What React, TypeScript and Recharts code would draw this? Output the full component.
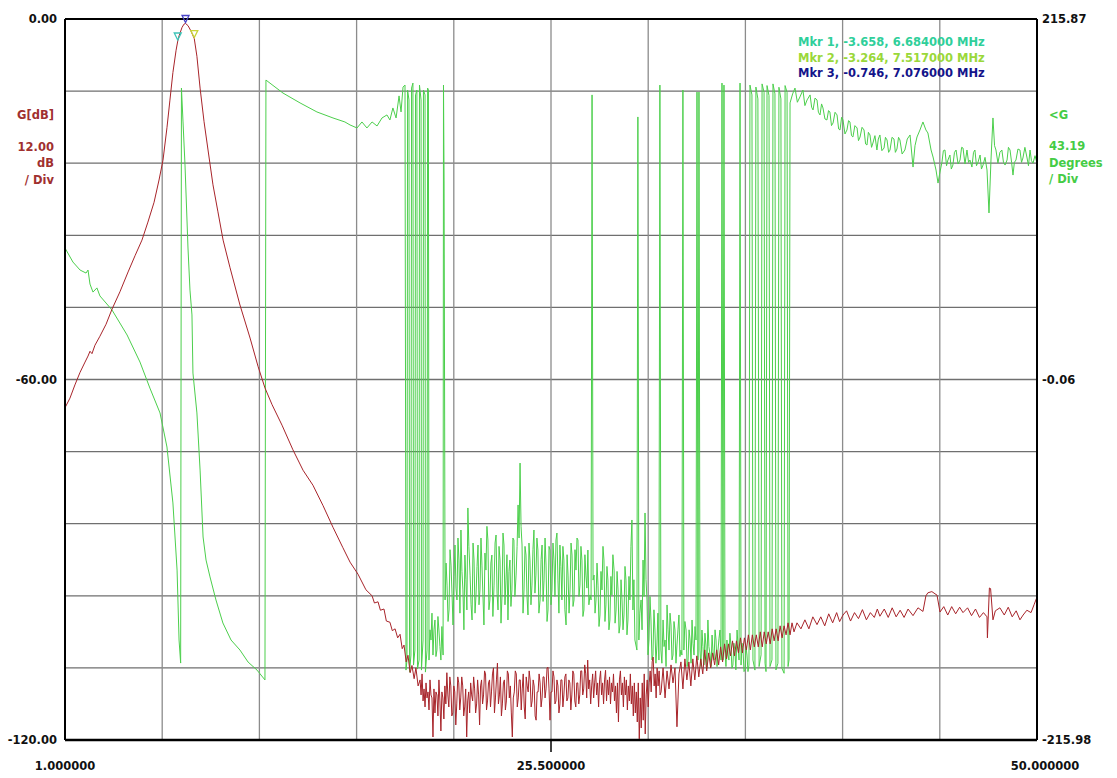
import React from 'react';
import { LineChart, Line, XAxis, YAxis, CartesianGrid, ReferenceLine, ReferenceDot } from 'recharts';

// Frequency axis (MHz)
const X_DOMAIN: [number, number] = [1, 50];
const X_GRID = [1, 5.9, 10.8, 15.7, 20.6, 25.5, 30.4, 35.3, 40.2, 45.1, 50];
const X_LABEL_VALUES = [1, 25.5, 50];
const X_LABEL_TEXT = ['1.000000', '25.500000', '50.000000'];

// Gain axis (dB)
const G_DOMAIN: [number, number] = [-120, 0];
const G_GRID = [-120, -108, -96, -84, -72, -60, -48, -36, -24, -12, 0];
const G_LABEL_VALUES = [0, -60, -120];
const G_LABEL_TEXT = ['0.00', '-60.00', '-120.00'];

// Phase axis (degrees)
const P_DOMAIN: [number, number] = [-215.98, 215.87];
const P_TICKS = [-215.98, -0.06, 215.87];
const P_LABEL_TEXT = ['-215.98', '-0.06', '215.87'];

// Markers: [freq MHz, gain dB]
const MARKER_NAMES = ['Mkr 1', 'Mkr 2', 'Mkr 3'];
const MARKER_FREQ = [6.684, 7.517, 7.076];
const MARKER_GAIN = [-3.658, -3.264, -0.746];
const MARKER_TEXT_COLORS = ['#2fcf9a', '#9ad83a', '#14148a'];
const MARKER_TRI_COLORS = ['#3ec4b8', '#c9d43a', '#4a44c8'];

// G [dB] trace: [freq MHz, gain dB]
const G_TRACE: [number, number][] = [
  [1.00,-64.7],[1.25,-63.1],[1.50,-60.9],[1.76,-58.8],[2.01,-57.1],[2.16,-56.1],[2.26,-55.3],[2.36,-55.7],
  [2.51,-54.3],[2.76,-52.8],[3.07,-50.8],[3.37,-48.3],[3.77,-45.4],[4.18,-42.1],[4.53,-39.4],[4.88,-36.8],
  [5.18,-33.8],[5.49,-30.5],[5.74,-26.8],[5.94,-23.5],[6.14,-18.1],[6.29,-13.5],[6.44,-8.9],[6.60,-5.2],
  [6.684,-3.658],[6.75,-2.8],[6.90,-1.4],[7.00,-0.85],[7.076,-0.746],[7.20,-1.1],[7.35,-2.0],[7.517,-3.264],
  [7.65,-6.2],[7.81,-11.5],[8.01,-17.1],[8.21,-21.8],[8.46,-27.6],[8.71,-32.1],[8.97,-36.8],[9.32,-41.4],
  [9.82,-47.6],[10.33,-53.1],[10.73,-57.8],[11.08,-61.4],[11.44,-64.2],[11.94,-67.6],[12.49,-71.7],[13.00,-75.1],
  [13.50,-77.6],[14.01,-81.0],[14.51,-84.6],[15.01,-88.0],[15.37,-90.4],[15.77,-92.4],[16.17,-95.0],[16.48,-96.0],
  [16.60,-97.2],[16.78,-97.0],[16.90,-98.4],[17.08,-98.2],[17.20,-100.2],[17.38,-100.4],[17.50,-101.8],[17.64,-101.5],
  [17.77,-103.0],[17.89,-102.4],[18.00,-104.8],[18.09,-104.2],[18.20,-107.0],[18.29,-105.9],[18.40,-108.8],[18.49,-107.6],
  [18.60,-109.8],[18.69,-108.0],[18.80,-111.0],
  [18.90,-110.0],[18.95,-112.5],[19.00,-109.0],[19.05,-113.5],[19.10,-111.5],[19.15,-114.5],[19.20,-110.5],[19.25,-113.0],[19.30,-112.0],[19.35,-115.0],
  [19.40,-110.0],[19.45,-112.5],[19.50,-113.0],[19.55,-119.5],[19.60,-111.5],[19.65,-115.5],[19.70,-112.0],[19.75,-112.5],[19.80,-116.0],[19.85,-110.0],
  [19.90,-113.5],[19.95,-118.5],[20.00,-112.0],[20.05,-113.0],[20.10,-116.5],[20.15,-111.0],[20.20,-114.0],[20.25,-108.8],[20.30,-112.5],[20.35,-114.5],
  [20.40,-109.5],[20.45,-111.0],[20.50,-116.0],[20.55,-115.5],[20.60,-111.0],[20.65,-112.0],[20.70,-117.5],[20.75,-114.0],[20.80,-109.5],[20.85,-110.5],
  [20.90,-115.0],[20.95,-113.0],[21.00,-109.5],[21.05,-111.0],[21.10,-116.0],[21.15,-114.5],[21.20,-111.5],[21.25,-119.5],[21.30,-113.5],[21.35,-112.0],
  [21.40,-115.5],[21.45,-110.5],[21.50,-112.5],[21.55,-113.5],[21.60,-109.5],[21.65,-111.5],[21.70,-115.5],[21.75,-114.0],[21.80,-110.0],[21.85,-112.5],
  [21.90,-117.5],[21.95,-111.0],[22.00,-110.0],[22.05,-114.0],[22.10,-112.5],[22.15,-108.5],[22.20,-109.0],[22.25,-115.0],[22.30,-113.5],[22.35,-110.5],
  [22.40,-110.0],[22.45,-114.5],[22.50,-112.0],[22.55,-109.0],[22.60,-108.0],[22.65,-115.5],[22.70,-113.0],[22.75,-110.0],[22.80,-107.2],[22.85,-114.0],
  [22.90,-112.5],[22.95,-109.5],[23.00,-116.0],[23.05,-114.0],[23.10,-110.5],[23.15,-110.0],[23.20,-115.0],[23.25,-113.5],[23.30,-108.5],[23.35,-109.0],
  [23.40,-113.0],[23.45,-111.0],[23.50,-115.5],[23.55,-119.5],[23.60,-113.0],[23.65,-112.0],[23.70,-108.5],[23.75,-109.0],[23.80,-114.5],[23.85,-113.0],
  [23.90,-110.0],[23.95,-110.0],[24.00,-115.0],[24.05,-111.5],[24.10,-109.0],[24.15,-114.5],[24.20,-116.5],[24.25,-109.5],[24.30,-111.0],[24.35,-112.0],
  [24.40,-108.5],[24.45,-110.0],[24.50,-114.5],[24.55,-113.5],[24.60,-110.0],[24.65,-111.0],[24.70,-116.0],[24.75,-116.7],[24.80,-112.0],[24.85,-112.0],
  [24.90,-109.0],[24.95,-110.5],[25.00,-114.5],[25.05,-113.0],[25.10,-109.5],[25.15,-109.5],[25.20,-113.0],[25.25,-111.5],[25.30,-108.0],[25.35,-107.9],
  [25.40,-111.5],[25.45,-116.7],[25.50,-112.0],[25.55,-112.0],[25.60,-108.5],[25.65,-109.5],[25.70,-114.0],[25.75,-113.5],[25.80,-110.0],[25.85,-111.0],
  [25.90,-115.5],[25.95,-114.0],[26.00,-110.0],[26.05,-110.0],[26.10,-114.5],[26.15,-112.5],[26.20,-109.5],[26.25,-109.0],[26.30,-113.5],[26.35,-113.0],
  [26.40,-110.0],[26.45,-110.5],[26.50,-115.0],[26.55,-112.5],[26.60,-108.5],[26.65,-109.0],[26.70,-113.5],[26.75,-114.5],[26.80,-110.5],[26.85,-110.5],
  [26.90,-114.0],[26.95,-112.5],[27.00,-108.5],[27.05,-108.5],[27.10,-112.5],[27.15,-111.5],[27.20,-107.5],[27.25,-109.0],[27.30,-113.0],[27.35,-106.7],
  [27.40,-111.5],[27.45,-110.0],[27.50,-114.0],[27.55,-111.0],[27.60,-109.0],[27.65,-113.0],[27.70,-110.5],[27.75,-108.5],[27.80,-112.5],[27.85,-110.5],
  [27.90,-114.5],[27.95,-110.0],[28.00,-108.5],[28.05,-112.5],[28.10,-110.5],[28.15,-114.0],[28.20,-110.0],[28.25,-108.4],[28.30,-113.5],[28.35,-110.0],
  [28.40,-112.5],[28.45,-109.5],[28.50,-114.0],[28.55,-110.5],[28.60,-112.0],[28.65,-109.0],[28.70,-113.5],[28.75,-111.0],[28.80,-115.5],[28.85,-110.5],
  [28.90,-117.0],[28.95,-110.0],[29.00,-108.5],[29.05,-112.5],[29.10,-110.5],[29.15,-114.5],[29.20,-109.5],[29.25,-112.5],[29.30,-110.0],[29.35,-115.0],
  [29.40,-111.0],[29.45,-113.5],[29.50,-109.0],[29.55,-114.0],[29.60,-111.0],[29.65,-116.0],[29.70,-110.5],[29.75,-115.5],[29.80,-112.0],[29.85,-117.0],
  [29.90,-110.5],[29.95,-119.8],[30.00,-113.0],[30.05,-118.0],[30.10,-110.5],[30.15,-116.7],[30.20,-109.0],[30.25,-119.0],[30.30,-112.5],[30.35,-110.0],
  [30.40,-114.5],[30.45,-110.5],[30.50,-108.5],[30.55,-112.0],[30.60,-107.0],[30.65,-106.2],[30.70,-111.0],[30.75,-109.0],[30.80,-113.0],[30.85,-108.0],
  [30.90,-111.0],[30.95,-108.5],[31.00,-112.5],
  [31.05,-112.0],[31.15,-108.0],[31.25,-113.0],[31.35,-108.5],[31.45,-111.5],[31.55,-107.5],[31.65,-110.5],[31.75,-108.0],[31.85,-117.8],[31.95,-109.0],
  [32.05,-107.0],[32.15,-111.5],[32.25,-106.5],[32.35,-110.0],[32.45,-107.0],[32.55,-111.0],[32.65,-106.5],[32.75,-110.0],[32.85,-106.0],[32.95,-109.5],
  [33.05,-106.5],[33.15,-109.0],[33.25,-105.0],[33.35,-108.5],[33.45,-105.5],[33.55,-108.0],[33.65,-105.5],[33.75,-107.5],[33.85,-105.0],[33.95,-107.5],
  [34.05,-104.5],[34.15,-107.0],[34.25,-104.0],[34.35,-106.5],[34.45,-104.0],[34.55,-106.0],[34.65,-103.5],[34.75,-106.0],[34.85,-103.5],[34.95,-105.5],
  [35.05,-103.0],[35.15,-105.5],[35.25,-103.0],[35.35,-105.0],[35.45,-102.5],[35.55,-105.0],[35.65,-102.5],[35.75,-104.5],[35.85,-102.5],[35.95,-104.5],
  [36.05,-102.0],[36.15,-104.5],[36.25,-102.0],[36.35,-104.0],[36.45,-102.0],[36.55,-104.0],[36.65,-101.5],[36.75,-103.5],[36.85,-101.5],[36.95,-103.5],
  [37.05,-101.0],[37.15,-103.0],[37.25,-101.0],[37.35,-102.5],[37.45,-100.5],[37.55,-102.5],[37.65,-100.5],[37.75,-102.0],
  [37.90,-100.5],[38.10,-101.5],[38.30,-100.0],[38.50,-101.5],[38.70,-99.5],[38.91,-100.8],[39.10,-99.5],[39.30,-101.0],[39.50,-99.0],[39.70,-100.5],
  [39.90,-98.8],[40.05,-100.3],[40.22,-99.2],[40.40,-98.5],[40.60,-100.2],[40.80,-98.8],[41.00,-99.8],[41.20,-98.3],[41.40,-100.0],[41.60,-98.8],
  [41.80,-99.6],[41.95,-98.2],[42.08,-99.4],[42.30,-98.2],[42.50,-99.6],[42.70,-98.0],[42.90,-99.5],[43.10,-98.4],[43.30,-99.6],[43.50,-98.2],
  [43.75,-99.3],[44.00,-98.0],[44.25,-98.6],[44.40,-96.0],[44.50,-95.5],[44.70,-95.3],[44.96,-95.9],[45.11,-98.7],[45.30,-97.8],[45.50,-99.2],
  [45.70,-97.8],[45.90,-99.0],[46.10,-97.9],[46.27,-98.8],[46.50,-98.0],[46.70,-99.3],[46.90,-98.2],[47.10,-99.6],[47.30,-98.8],[47.48,-99.5],
  [47.50,-103.0],[47.60,-94.7],[47.66,-94.8],[47.78,-100.0],[47.90,-98.5],[48.13,-98.0],[48.35,-99.2],[48.55,-97.9],[48.75,-99.5],[48.95,-98.5],
  [49.14,-100.0],[49.30,-99.2],[49.49,-98.4],[49.70,-98.8],[49.85,-97.5],[50.00,-96.2],
];

// Phase <G trace: [freq MHz, degrees]
const PHASE_TRACE: [number, number][] = [
  [1.00,78.7],[1.40,70.3],[1.76,65.5],[2.06,63.7],[2.16,65.5],[2.26,57.1],[2.41,52.3],[2.61,54.8],[2.76,50.0],
  [3.37,41.6],[4.13,26.6],[4.78,10.4],[5.28,-5.2],[5.79,-20.1],[6.14,-40.5],[6.44,-74.0],[6.65,-114.2],[6.75,-156.1],
  [6.83,-169.9],[6.87,174.5],[6.95,154.2],[7.05,128.4],[7.20,78.7],[7.30,53.5],[7.40,38.6],[7.45,3.8],[7.65,-20.1],
  [7.81,-54.3],[7.96,-94.4],[8.11,-108.2],[8.31,-118.3],[8.61,-132.1],[8.96,-145.9],[9.37,-156.1],[9.82,-162.1],
  [10.23,-169.3],[10.68,-174.1],[11.08,-180.0],[11.13,179.3],[11.99,171.5],[12.85,165.6],[13.70,160.2],[14.51,156.6],
  [15.11,154.2],[15.37,152.4],[15.72,150.6],[15.97,154.2],[16.22,150.6],[16.48,154.2],[16.73,151.8],[16.98,156.6],
  [17.23,158.4],[17.38,155.4],[17.53,162.6],[17.69,156.6],[17.84,169.8],[17.94,160.2],[18.04,175.1],
  [18.14,176.3],[18.19,-174.1],[18.24,-168.1],[18.27,173.3],[18.34,167.4],[18.37,-175.3],[18.44,-165.1],[18.47,174.5],
  [18.54,177.5],[18.57,-171.1],[18.64,-162.1],[18.67,170.4],[18.74,173.3],[18.77,-173.5],[18.85,-168.1],[18.87,176.3],
  [18.95,167.4],[18.97,-174.1],[19.05,-156.1],[19.07,173.3],[19.15,170.4],[19.17,-175.3],[19.25,-162.1],[19.28,174.5],
  [19.32,173.3],[19.35,-168.1],[19.40,-150.0],[19.45,-156.1],[19.50,-140.0],[19.55,-165.1],[19.60,-150.0],[19.65,-144.1],
  [19.70,-166.0],[19.75,-162.1],[19.80,-142.0],[19.85,-150.1],[19.90,-160.0],[19.95,-168.1],[20.00,-148.0],
  [20.06,-165.1],[20.08,176.3],[20.11,119.4],[20.16,-132.1],
  [20.21,-110.0],[20.26,-123.2],[20.31,-145.0],[20.36,-138.1],[20.41,-102.0],[20.46,-111.2],[20.51,-128.0],[20.56,-147.1],
  [20.61,-118.0],[20.66,-99.2],[20.71,-125.0],[20.76,-132.1],[20.81,-95.0],[20.86,-108.2],[20.91,-140.0],[20.96,-90.2],
  [21.01,-115.0],[21.06,-126.1],[21.11,-150.0],[21.16,-105.2],[21.21,-120.0],[21.26,-138.1],[21.31,-77.0],[21.36,-100.0],
  [21.42,-117.2],[21.47,-135.0],[21.52,-144.1],[21.57,-98.0],[21.62,-108.2],[21.67,-140.0],[21.72,-129.1],[21.77,-112.0],
  [21.82,-99.2],[21.87,-135.0],[21.92,-126.1],[21.97,-95.0],[22.02,-111.2],[22.07,-130.0],[22.12,-147.1],[22.17,-104.0],
  [22.22,-114.2],[22.27,-88.0],[22.32,-96.2],[22.37,-138.0],[22.42,-132.1],[22.47,-110.0],[22.52,-105.2],[22.57,-142.0],
  [22.63,-123.2],[22.68,-98.0],[22.73,-93.2],[22.78,-128.0],[22.83,-138.1],[22.88,-100.0],[22.93,-108.2],[22.98,-146.0],
  [23.03,-129.1],[23.08,-92.0],[23.13,-99.2],[23.18,-135.0],[23.23,-120.2],[23.28,-105.0],[23.33,-144.1],[23.38,-115.0],
  [23.43,-108.2],[23.48,-136.0],[23.53,-126.1],[23.58,-95.0],[23.63,-96.2],[23.68,-130.0],[23.74,-117.2],[23.79,-100.0],
  [23.84,-75.2],[23.89,-95.0],[23.94,-50.1],[23.99,-88.0],[24.04,-99.2],[24.09,-140.0],[24.14,-126.1],[24.19,-100.0],
  [24.24,-105.2],[24.29,-130.0],[24.34,-141.1],[24.39,-98.0],[24.44,-108.2],[24.49,-135.0],[24.54,-123.2],[24.59,-102.0],
  [24.64,-90.2],[24.69,-128.0],[24.74,-117.2],[24.79,-95.0],[24.84,-102.2],[24.89,-140.0],[24.95,-132.1],[25.00,-108.0],
  [25.05,-99.2],[25.10,-133.0],[25.15,-120.2],[25.20,-95.0],[25.25,-111.2],[25.30,-145.0],[25.35,-138.1],[25.40,-100.0],
  [25.45,-102.2],[25.50,-135.0],[25.55,-126.1],[25.60,-98.0],[25.65,-108.2],[25.70,-130.0],[25.75,-96.2],[25.80,-92.0],
  [25.85,-120.2],[25.90,-140.0],[25.95,-99.2],[26.00,-112.0],[26.05,-132.1],[26.10,-100.0],[26.15,-108.2],[26.20,-138.0],
  [26.26,-147.1],[26.31,-105.0],[26.36,-117.2],[26.41,-140.0],[26.46,-126.1],[26.51,-98.0],[26.56,-105.2],[26.61,-136.0],
  [26.66,-132.1],[26.71,-102.0],[26.76,-114.2],[26.81,-95.0],[26.86,-96.2],[26.91,-130.0],[26.96,-123.2],[27.01,-100.0],
  [27.06,-108.2],[27.11,-142.0],[27.16,-138.1],[27.21,-105.0],[27.26,-117.2],[27.31,-125.0],[27.36,-102.2],[27.41,-135.0],
  [27.47,-129.1],[27.52,-132.1],[27.57,170.4],[27.62,-120.2],[27.67,-117.2],[27.72,-140.0],[27.77,-132.1],[27.82,-110.0],
  [27.87,-123.2],[27.92,-148.0],[27.97,-141.1],[28.02,-115.0],[28.07,-126.1],[28.12,-100.0],[28.17,-108.2],[28.22,-145.0],
  [28.27,-135.1],[28.32,-112.0],[28.37,-120.2],[28.42,-150.0],[28.47,-144.1],[28.52,-118.0],[28.57,-129.1],[28.62,-105.0],
  [28.68,-114.2],[28.73,-146.0],[28.78,-138.1],[28.83,-115.0],[28.88,-126.1],[28.93,-152.0],[28.98,-147.1],[29.03,-120.0],
  [29.08,-132.1],[29.13,-150.0],[29.18,-141.1],[29.23,-112.0],[29.28,-120.2],[29.33,-153.0],[29.38,-144.1],[29.43,-118.0],
  [29.48,-132.1],[29.53,-100.0],[29.58,-84.2],[29.63,-138.1],[29.68,-120.0],
  [29.73,-156.1],[29.83,-162.1],[29.88,157.2],[29.93,-156.1],[29.98,-140.0],[30.04,-132.1],[30.09,-150.0],[30.14,-108.2],[30.19,-130.0],[30.24,-80.0],
  [30.29,-120.0],[30.34,-132.1],[30.39,-165.0],[30.44,-156.1],[30.49,-130.0],[30.54,-144.1],[30.59,-168.0],[30.64,-165.1],[30.69,-138.0],[30.74,-150.1],
  [30.79,-170.0],[30.84,-159.1],[30.89,-140.0],[30.94,-168.1],[30.99,176.3],[31.04,-162.1],[31.09,-170.0],[31.15,-144.1],[31.20,-160.0],[31.25,-156.1],
  [31.30,-172.0],[31.35,-135.1],[31.40,-150.0],[31.45,-162.1],[31.50,-140.0],[31.55,-147.1],[31.60,-168.0],[31.65,-165.1],[31.70,-145.0],[31.75,-150.1],
  [31.80,-170.0],[31.85,-159.1],[31.90,-150.0],[31.95,-141.1],[32.00,-166.0],[32.05,-162.1],[32.10,-165.1],[32.15,173.3],[32.20,-162.1],[32.25,-145.0],
  [32.31,-150.1],[32.36,-172.0],[32.41,-168.1],[32.46,-150.0],[32.51,-156.1],[32.56,-170.0],[32.61,-144.1],[32.66,-158.0],[32.71,-165.1],[32.76,-148.0],
  [32.81,-156.1],[32.86,172.1],[32.91,-168.1],[32.96,172.1],[33.01,-162.1],[33.06,-172.0],[33.11,-150.1],[33.16,-160.0],[33.21,-171.1],[33.26,-152.0],
  [33.31,-159.1],[33.36,-173.0],[33.41,-144.1],[33.46,-160.0],[33.52,-165.1],[33.57,-172.0],[33.62,-153.1],[33.67,-164.0],[33.72,-168.1],[33.77,-150.0],
  [33.82,-156.1],[33.87,-172.0],[33.92,-162.1],[33.97,-155.0],[34.02,-150.1],[34.07,-168.1],[34.12,177.5],[34.17,-168.1],[34.22,176.3],[34.27,-162.1],
  [34.32,-172.0],[34.37,-156.1],[34.42,-165.0],[34.47,-168.1],[34.52,-152.0],[34.57,-159.1],[34.62,-173.0],[34.67,-171.1],[34.72,-158.0],[34.77,-162.1],
  [34.82,-174.0],[34.88,-150.1],[34.93,-160.0],[34.98,-168.1],[35.03,177.5],[35.08,-171.1],[35.13,-158.0],[35.18,-162.1],[35.23,-175.0],[35.28,-174.1],
  [35.33,-160.0],[35.38,-165.1],[35.43,-175.0],[35.48,-171.1],[35.53,176.3],[35.63,170.4],[35.68,-168.1],[35.78,-174.1],
  [35.83,175.1],[35.93,168.0],[35.99,-172.0],[36.09,-165.0],[36.14,177.0],[36.24,172.0],[36.29,-170.0],[36.34,-175.0],
  [36.39,176.0],[36.49,170.0],[36.54,-172.0],[36.64,-168.0],[36.69,177.0],[36.79,171.0],[36.84,-174.0],[36.94,-170.0],
  [36.99,175.0],[37.09,168.0],[37.14,-173.0],[37.25,-176.0],[37.30,176.0],[37.40,172.0],[37.45,-172.0],[37.50,-168.0],
  [37.55,165.6],[37.68,171.0],[37.80,174.5],[37.92,166.0],[38.05,169.2],[38.20,173.3],[38.30,164.0],[38.41,167.4],[38.56,170.4],[38.64,163.0],
  [38.71,161.4],[38.81,168.5],[38.91,167.4],[38.98,160.0],[39.06,158.4],[39.14,165.0],[39.21,162.6],[39.31,156.0],[39.41,155.4],[39.49,161.0],
  [39.56,160.2],[39.64,152.0],[39.72,153.6],[39.82,160.0],[39.92,158.4],[40.00,150.0],[40.07,149.4],[40.15,157.0],[40.22,155.4],[40.32,147.0],
  [40.42,149.4],[40.50,155.0],[40.57,154.2],[40.65,146.0],[40.72,145.2],[40.82,152.0],[40.93,150.6],[41.00,143.0],[41.08,145.2],[41.18,151.0],
  [41.28,149.4],[41.36,141.0],[41.43,140.4],[41.50,148.0],[41.58,146.4],[41.66,139.0],[41.73,141.6],[41.83,146.0],[41.93,137.4],[42.00,144.0],
  [42.08,146.4],[42.18,137.0],[42.29,138.6],[42.36,145.0],[42.44,143.4],[42.52,136.0],[42.59,137.4],[42.69,145.0],[42.79,144.0],[42.86,136.0],
  [42.94,138.0],[43.02,145.0],[43.09,143.4],[43.20,135.0],[43.34,137.4],[43.46,144.0],[43.60,146.4],[43.75,127.2],[43.85,140.0],[43.95,145.2],
  [44.10,149.4],[44.25,154.2],[44.40,149.4],[44.50,147.6],[44.66,137.4],[44.76,133.2],[44.91,125.4],[45.01,117.6],[45.11,124.2],[45.21,130.2],
  [45.28,137.0],[45.36,137.4],[45.44,128.0],[45.51,131.4],[45.61,134.4],[45.68,126.0],[45.76,128.4],[45.84,136.0],[45.92,137.4],[46.02,129.0],
  [46.12,131.4],[46.20,139.0],[46.27,138.6],[46.37,129.0],[46.47,137.4],[46.55,130.0],[46.62,131.4],[46.72,127.2],[46.80,136.0],[46.87,137.4],
  [46.95,128.0],[47.03,130.2],[47.13,134.4],[47.20,126.0],[47.28,128.4],[47.38,133.0],[47.48,125.4],[47.58,99.7],[47.68,131.4],[47.78,156.6],
  [47.86,140.0],[47.93,137.4],[48.03,129.6],[48.13,136.0],[48.23,137.4],[48.31,130.0],[48.39,128.4],[48.49,131.4],[48.56,139.0],[48.64,137.4],
  [48.72,130.0],[48.79,122.4],[48.86,130.0],[48.94,131.4],[49.04,138.0],[49.14,137.4],[49.22,130.0],[49.29,132.6],[49.39,139.0],[49.49,133.2],
  [49.57,128.0],[49.65,137.4],[49.72,131.0],[49.80,129.6],[49.90,134.0],[50.00,129.6],
];

const gData = G_TRACE.map(([f, g]) => ({ f, g }));
const pData = PHASE_TRACE.map(([f, p]) => ({ f, p }));

const FONT = "'DejaVu Sans', Verdana, sans-serif";
const RED = '#a8242a';
const GREEN = '#4ccf4c';
const LABEL_RED = '#a0302f';
const LABEL_GREEN = '#45cc45';

const XTick = (props: any) => {
  const { x, y, payload } = props;
  const i = X_LABEL_VALUES.indexOf(payload.value);
  if (i < 0) return <g />;
  const dx = i === X_LABEL_VALUES.length - 1 ? 8 : 0;
  return (
    <g>
      {payload.value === 25.5 && <line x1={x} x2={x} y1={y} y2={y + 12} stroke="#000" strokeWidth={1.5} />}
      <text x={x + dx} y={y + 26} textAnchor="middle" dominantBaseline="central" fontFamily={FONT} fontWeight="bold" fontSize={11.5} fill="#111">
        {X_LABEL_TEXT[i]}
      </text>
    </g>
  );
};

const LeftTick = (props: any) => {
  const { x, y, payload } = props;
  const i = G_LABEL_VALUES.indexOf(payload.value);
  if (i < 0) return <g />;
  return (
    <text x={x - 8} y={y} textAnchor="end" dominantBaseline="central" fontFamily={FONT} fontWeight="bold" fontSize={11.5} fill="#111">
      {G_LABEL_TEXT[i]}
    </text>
  );
};

const RightTick = (props: any) => {
  const { x, y, payload } = props;
  const i = P_TICKS.indexOf(payload.value);
  if (i < 0) return <g />;
  return (
    <text x={x + 5} y={y} textAnchor="start" dominantBaseline="central" fontFamily={FONT} fontWeight="bold" fontSize={11.5} fill="#111">
      {P_LABEL_TEXT[i]}
    </text>
  );
};

const triShape = (color: string) => (props: any) => {
  const { cx, cy } = props;
  return <path d={`M${cx - 3.5},${cy - 8} L${cx + 3.5},${cy - 8} L${cx},${cy - 1} Z`} fill="none" stroke={color} strokeWidth={1.3} />;
};

const txt = (extra: React.CSSProperties): React.CSSProperties => ({
  position: 'absolute',
  fontFamily: FONT,
  fontWeight: 'bold',
  fontSize: 11.5,
  lineHeight: '14px',
  whiteSpace: 'nowrap',
  ...extra,
});

export default function App() {
  return (
    <div style={{ position: 'absolute', left: 0, top: 0, width: 1117, height: 778, background: '#fff' }}>
      <LineChart width={1117} height={778} margin={{ top: 19, right: 0, bottom: 0, left: 0 }}>
        <CartesianGrid yAxisId="left" horizontal={true} vertical={false} stroke="#6f6f6f" strokeWidth={1.3} />
        <CartesianGrid yAxisId="left" horizontal={false} vertical={true} stroke="#8c8c8c" strokeWidth={1.3} />
        <XAxis
          type="number"
          dataKey="f"
          domain={X_DOMAIN}
          ticks={X_GRID}
          allowDataOverflow
          height={38}
          tickSize={0}
          tickMargin={0}
          tickLine={false}
          axisLine={{ stroke: '#000', strokeWidth: 2.5 }}
          tick={XTick}
          interval={0}
        />
        <YAxis
          yAxisId="left"
          orientation="left"
          type="number"
          domain={G_DOMAIN}
          ticks={G_GRID}
          allowDataOverflow
          width={65}
          tickSize={0}
          tickMargin={0}
          tickLine={false}
          axisLine={{ stroke: '#000', strokeWidth: 2 }}
          tick={LeftTick}
          interval={0}
        />
        <YAxis
          yAxisId="right"
          orientation="right"
          type="number"
          domain={P_DOMAIN}
          ticks={P_TICKS}
          allowDataOverflow
          width={80}
          tickSize={0}
          tickMargin={0}
          tickLine={false}
          axisLine={{ stroke: '#000', strokeWidth: 2 }}
          tick={RightTick}
          interval={0}
        />
        <ReferenceLine yAxisId="left" y={0} stroke="#000" strokeWidth={2} />
        <Line
          data={pData}
          dataKey="p"
          yAxisId="right"
          type="linear"
          stroke={GREEN}
          strokeWidth={1}
          dot={false}
          activeDot={false}
          isAnimationActive={false}
        />
        <Line
          data={gData}
          dataKey="g"
          yAxisId="left"
          type="linear"
          stroke={RED}
          strokeWidth={1}
          dot={false}
          activeDot={false}
          isAnimationActive={false}
        />
        {MARKER_FREQ.map((f, i) => (
          <ReferenceDot
            key={MARKER_NAMES[i]}
            yAxisId="left"
            x={f}
            y={MARKER_GAIN[i]}
            r={4}
            shape={triShape(MARKER_TRI_COLORS[i])}
          />
        ))}
      </LineChart>

      {/* left axis annotations */}
      <div style={txt({ left: 0, width: 54, textAlign: 'right', top: 108, color: LABEL_RED })}>G[dB]</div>
      <div style={txt({ left: 0, width: 54, textAlign: 'right', top: 140, color: LABEL_RED })}>12.00</div>
      <div style={txt({ left: 0, width: 54, textAlign: 'right', top: 156, color: LABEL_RED })}>dB</div>
      <div style={txt({ left: 0, width: 54, textAlign: 'right', top: 173, color: LABEL_RED })}>/ Div</div>

      {/* right axis annotations */}
      <div style={txt({ left: 1049, top: 108, color: LABEL_GREEN })}>&lt;G</div>
      <div style={txt({ left: 1049, top: 139, color: LABEL_GREEN })}>43.19</div>
      <div style={txt({ left: 1049, top: 156, color: LABEL_GREEN })}>Degrees</div>
      <div style={txt({ left: 1049, top: 172, color: LABEL_GREEN })}>/ Div</div>

      {/* marker readouts */}
      {MARKER_NAMES.map((name, i) => (
        <div key={name} style={txt({ left: 798, top: 35 + i * 15.5, color: MARKER_TEXT_COLORS[i] })}>
          {`${name}, ${MARKER_GAIN[i].toFixed(3)}, ${MARKER_FREQ[i].toFixed(6)} MHz`}
        </div>
      ))}
    </div>
  );
}
